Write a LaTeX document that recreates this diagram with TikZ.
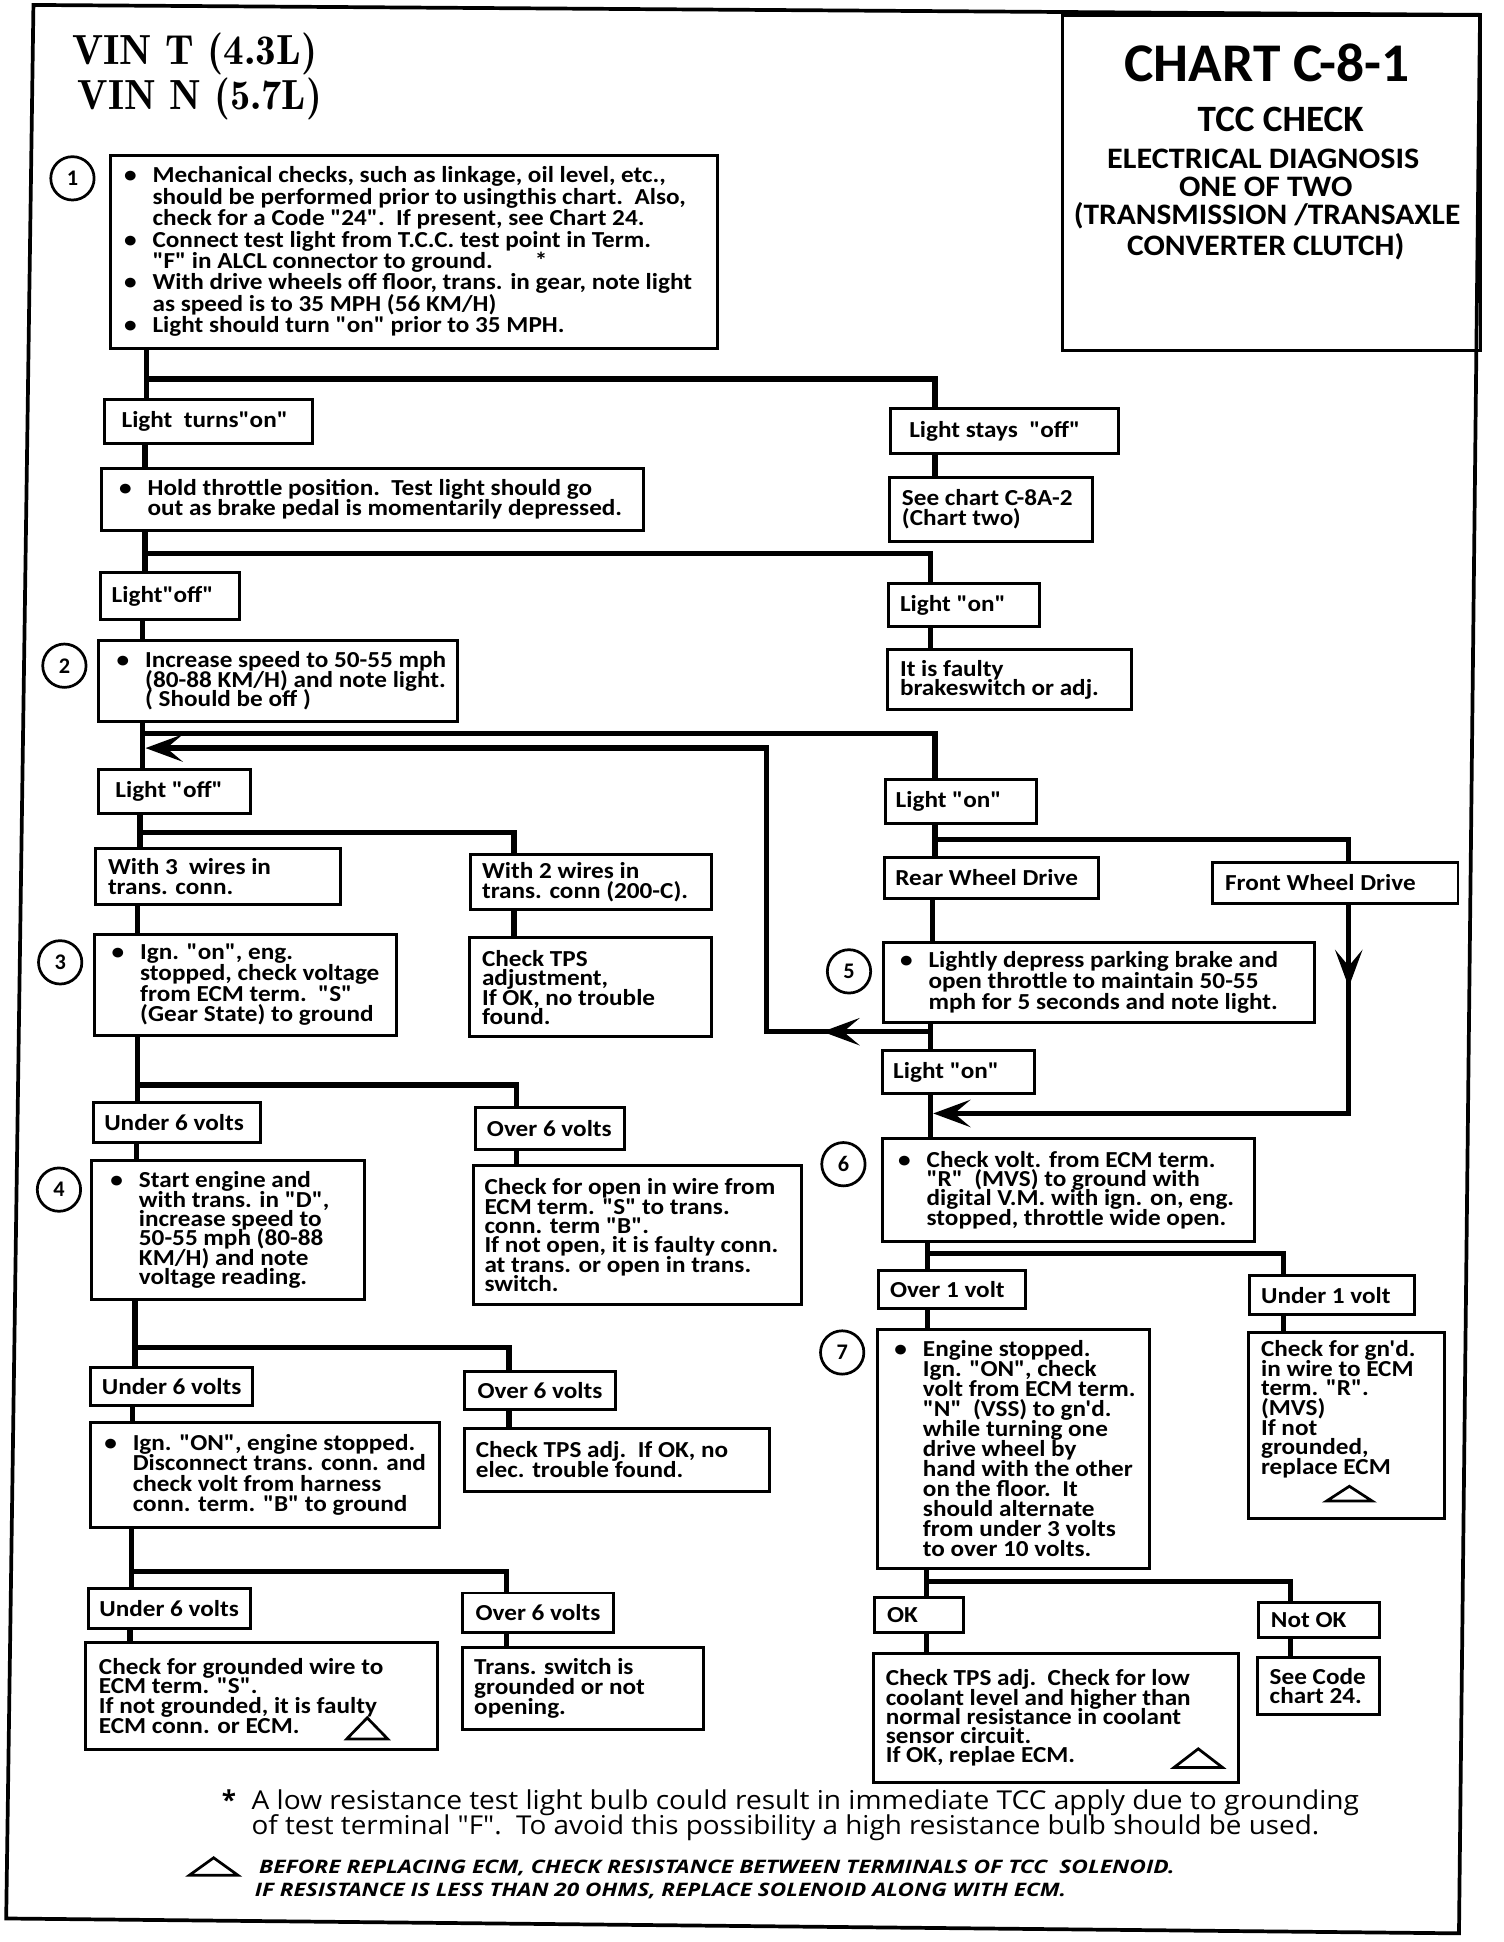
\documentclass[tikz,border=0pt]{standalone}
\usepackage{fontspec}
\usepackage{graphicx}
\usetikzlibrary{arrows.meta,calc}
\newfontfamily\carl{Carlito}[FakeStretch=1.1]
\newfontfamily\carltitle{Carlito}
\newfontfamily\opens{Open Sans}
\newfontfamily\vinf{lmromandemi10-regular.otf}
\newcommand\bxf{\carl\bfseries\fontsize{18.5}{15.8}\selectfont\lineskiplimit=-100pt\relax}
\newcommand\bsk[1]{\fontsize{18.5}{#1}\selectfont}
\newcommand\bul{\makebox[23pt][l]{\textbullet}}
\newcommand\ind{\hspace*{23pt}}
\newcommand\mybox[5]{\pgfmathsetmacro\bxW{#4-#2}\pgfmathsetmacro\bxH{#5-#3}\node[box,minimum width=\bxW pt,minimum height=\bxH pt,anchor=north west] (#1) at (#2,#3) {};}
\newcommand\boxtext[4][]{\node[txt,anchor=west,#1] (#2t) at ([xshift=#3pt]#2.west) {#4};}
\tikzset{
  box/.style={draw,line width=2.4pt,inner sep=0pt},
  txt/.style={inner sep=0pt,align=left,font=\bxf},
  conn/.style={line width=4.2pt},
  arr/.style={-{Stealth[length=30pt,width=22pt,inset=13pt]}},
  circ/.style={draw,circle,line width=2.2pt,minimum size=35pt,inner sep=0pt,font=\carltitle\bfseries\fontsize{18}{18}\selectfont},
  tri/.style={line width=2.2pt,line join=miter},
  ttl/.style={anchor=base,inner sep=0pt},
}
\begin{document}
\begin{tikzpicture}[x=1pt,y=-1pt]
\useasboundingbox (0,0) rectangle (1214,1568);
\fill[white] (0,0) rectangle (1214,1568);
% outer frame
\draw[line width=3pt,line join=miter] (27,4) -- (1195,12) -- (1178,1561) -- (5,1549) -- cycle;
% title box
\mybox{tb}{857}{11}{1194}{282}
\node[ttl,font=\carltitle\bfseries\fontsize{44}{44}\selectfont] (t1) at (1023,66) {\resizebox{230pt}{\height}{CHART C-8-1}};
\node[ttl,font=\carltitle\bfseries\fontsize{30}{30}\selectfont] (t2) at (1034,106) {\resizebox{134pt}{\height}{TCC CHECK}};
\node[ttl,font=\carltitle\bfseries\fontsize{24}{24}\selectfont] (t3) at (1020,136) {\resizebox{252pt}{\height}{ELECTRICAL DIAGNOSIS}};
\node[ttl,font=\carltitle\bfseries\fontsize{24}{24}\selectfont] (t4) at (1022,159) {\resizebox{140pt}{\height}{ONE OF TWO}};
\node[ttl,font=\carltitle\bfseries\fontsize{24}{24}\selectfont] (t5) at (1023,181.6) {\resizebox{312pt}{\height}{(TRANSMISSION /TRANSAXLE}};
\node[ttl,font=\carltitle\bfseries\fontsize{24}{24}\selectfont] (t6) at (1022,206) {\resizebox{224pt}{\height}{CONVERTER CLUTCH)}};
% VIN
\node[anchor=base west,inner sep=0pt,font=\vinf\fontsize{34}{34}\selectfont] (v1) at (58,51.7) {\resizebox{198pt}{\height}{VIN T (4.3L)}};
\node[anchor=base west,inner sep=0pt,font=\vinf\fontsize{34}{34}\selectfont] (v2) at (62.6,88.8) {\resizebox{197pt}{\height}{VIN N (5.7L)}};

% boxes
\mybox{b1}{88}{124}{578}{280}
\mybox{lton}{83}{321}{251}{357}
\mybox{hold}{81}{377}{518}{427}
\mybox{lso}{718}{329}{902}{365}
\mybox{sc}{717}{384}{881}{436}
\mybox{loffa}{80}{461}{192}{499}
\mybox{lona}{716}{470}{838}{505}
\mybox{b2}{78}{516}{368}{581}
\mybox{faulty}{715}{523}{912}{572}
\mybox{loffb}{78}{620}{201}{656}
\mybox{lonb}{714}{628}{836}{664}
\mybox{wthree}{76}{684}{274}{729}
\mybox{wtwo}{379}{689}{573}{733}
\mybox{rwd}{713}{691}{886}{724}
\mybox{fwd}{978}{695}{1176}{728}
\mybox{b3}{75}{753}{319}{835}
\mybox{tps}{378}{756}{573}{836}
\mybox{b5}{712}{760}{1060}{824}
\mybox{lonc}{711}{847}{834}{882}
\mybox{ua}{74}{889}{209}{921}
\mybox{oa}{383}{893}{503}{927}
\mybox{b6}{711}{918}{1012}{1001}
\mybox{b4}{73}{936}{293}{1048}
\mybox{cfo}{381}{940}{646}{1052}
\mybox{oone}{708}{1025}{827}{1055}
\mybox{uone}{1008}{1029}{1141}{1060}
\mybox{b7}{707}{1072}{927}{1265}
\mybox{gnd}{1007}{1075}{1165}{1225}
\mybox{ub}{72}{1103}{203}{1134}
\mybox{ob}{374}{1106}{496}{1137}
\mybox{ign}{72}{1147}{354}{1232}
\mybox{tpsadj}{374}{1152}{620}{1203}
\mybox{uc}{70}{1281}{201}{1314}
\mybox{oc}{372}{1285}{494}{1317}
\mybox{cgw}{68}{1325}{352}{1411}
\mybox{ts}{372}{1329}{567}{1395}
\mybox{ok}{705}{1289}{777}{1317}
\mybox{nok}{1015}{1293}{1113}{1321}
\mybox{tpsl}{704}{1334}{999}{1438}
\mybox{scc}{1014}{1337}{1113}{1383}

% texts
\boxtext[font=\bxf\bsk{17.3}]{b1}{12}{\bul Mechanical checks, such as linkage, oil level, etc.,\\
\ind should be performed prior to usingthis chart.\ \ Also,\\
\ind check for a Code "24".\ \ If present, see Chart 24.\\
\bul Connect test light from T.C.C. test point in Term.\\
\ind "F" in ALCL connector to ground.\hspace{34pt}*\\
\bul With drive wheels off floor, trans. in gear, note light\\
\ind as speed is to 35 MPH (56 KM/H)\\
\bul Light should turn "on" prior to 35 MPH.}
\boxtext{lton}{15}{Light\ \ turns"on"}
\boxtext[font=\bxf\bsk{15.7}]{hold}{15}{\bul Hold throttle position.\ \ Test light should go\\
\ind out as brake pedal is momentarily depressed.}
\boxtext{lso}{16}{Light stays\ \ "off"}
\boxtext[font=\bxf\bsk{16}]{sc}{11}{See chart C-8A-2\\(Chart two)}
\boxtext{loffa}{10}{Light"off"}
\boxtext{lona}{10.5}{Light "on"}
\boxtext[font=\bxf\bsk{15.6}]{b2}{16}{\bul Increase speed to 50-55 mph\\
\ind (80-88 KM/H) and note light.\\
\ind ( Should be off )}
\boxtext[font=\bxf\bsk{15.6}]{faulty}{11.5}{It is faulty\\brakeswitch or adj.}
\boxtext{loffb}{15}{Light "off"}
\boxtext{lonb}{9}{Light "on"}
\boxtext[font=\bxf\bsk{15.8}]{wthree}{11}{With 3\ \ wires in\\trans. conn.}
\boxtext[font=\bxf\bsk{16}]{wtwo}{10}{With 2 wires in\\trans. conn (200-C).}
\boxtext{rwd}{9.7}{Rear Wheel Drive}
\boxtext{fwd}{11}{Front Wheel Drive}
\boxtext[font=\bxf\bsk{16.7}]{b3}{15}{\bul Ign. "on", eng.\\
\ind stopped, check voltage\\
\ind from ECM term.\ \ "S"\\
\ind (Gear State) to ground}
\boxtext[font=\bxf\bsk{15.7}]{tps}{11}{Check TPS\\adjustment,\\If OK, no trouble\\found.}
\boxtext[font=\bxf\bsk{17}]{b5}{14.5}{\bul Lightly depress parking brake and\\
\ind open throttle to maintain 50-55\\
\ind mph for 5 seconds and note light.}
\boxtext{lonc}{10}{Light "on"}
\boxtext{ua}{10}{Under 6 volts}
\boxtext{oa}{10}{Over 6 volts}
\boxtext[font=\bxf\bsk{15.6}]{b6}{14}{\bul Check volt. from ECM term.\\
\ind "R"\ \ (MVS) to ground with\\
\ind digital V.M. with ign. on, eng.\\
\ind stopped, throttle wide open.}
\boxtext[font=\bxf\bsk{15.6}]{b4}{16}{\bul Start engine and\\
\ind with trans. in "D",\\
\ind increase speed to\\
\ind 50-55 mph (80-88\\
\ind KM/H) and note\\
\ind voltage reading.}
\boxtext[font=\bxf\bsk{15.6}]{cfo}{10}{Check for open in wire from\\ECM term. "S" to trans.\\conn. term "B".\\If not open, it is faulty conn.\\at trans. or open in trans.\\switch.}
\boxtext{oone}{10.4}{Over 1 volt}
\boxtext{uone}{10}{Under 1 volt}
\boxtext[font=\bxf\bsk{16.1}]{b7}{15}{\bul Engine stopped.\\
\ind Ign. "ON", check\\
\ind volt from ECM term.\\
\ind "N"\ \ (VSS) to gn'd.\\
\ind while turning one\\
\ind drive wheel by\\
\ind hand with the other\\
\ind on the floor.\ \ It\\
\ind should alternate\\
\ind from under 3 volts\\
\ind to over 10 volts.}
\node[txt,anchor=north west,font=\bxf\bsk{15.9}] (gndt) at ([xshift=11pt,yshift=-7pt]gnd.north west) {Check for gn'd.\\in wire to ECM\\term. "R".\\(MVS)\\If not\\grounded,\\replace ECM};
\boxtext{ub}{10}{Under 6 volts}
\boxtext{ob}{11.5}{Over 6 volts}
\boxtext[font=\bxf\bsk{16.5}]{ign}{12}{\bul Ign. "ON", engine stopped.\\
\ind Disconnect trans. conn. and\\
\ind check volt from harness\\
\ind conn. term. "B" to ground}
\boxtext[font=\bxf\bsk{16.2}]{tpsadj}{10}{Check TPS adj.\ \ If OK, no\\elec. trouble found.}
\boxtext{uc}{10}{Under 6 volts}
\boxtext{oc}{11.8}{Over 6 volts}
\boxtext[font=\bxf\bsk{15.8}]{cgw}{11.7}{Check for grounded wire to\\ECM term. "S".\\If not grounded, it is faulty\\ECM conn. or ECM.}
\boxtext[font=\bxf\bsk{16}]{ts}{10.7}{Trans. switch is\\grounded or not\\opening.}
\boxtext{ok}{11}{OK}
\boxtext{nok}{11}{Not OK}
\boxtext[font=\bxf\bsk{15.6}]{tpsl}{11}{Check TPS adj.\ \ Check for low\\coolant level and higher than\\normal resistance in coolant\\sensor circuit.\\If OK, replae ECM.}
\boxtext[font=\bxf\bsk{15.6}]{scc}{11}{See Code\\chart 24.}

% triangles
\draw[tri] (280,1404) -- (313,1404) -- (296.5,1387) -- cycle;
\draw[tri] (1071,1212) -- (1108,1212) -- (1089.5,1200) -- cycle;
\draw[tri] (948,1427) -- (987,1427) -- (967.5,1412) -- cycle;
\draw[tri] (153,1514) -- (192,1514) -- (172.5,1500) -- cycle;

% step circles
\node[circ] (n1) at (58.5,144) {1};
\node[circ] (n2) at (52,537.5) {2};
\node[circ] (n3) at (48.6,777) {3};
\node[circ] (n4) at (47.6,960.5) {4};
\node[circ] (n5) at (685.5,784.3) {5};
\node[circ] (n6) at (681,940) {6};
\node[circ] (n7) at (680,1092) {7};

% junction coordinates
\coordinate (j1) at (118,306);
\coordinate (j2) at (117,447);
\coordinate (j3) at (115,592);
\coordinate (j4) at (113,672);
\coordinate (j5) at (111,876);
\coordinate (j6) at (109,1088);
\coordinate (j7) at (106,1269);
\coordinate (r1) at (755,678);
\coordinate (r2) at (749,1012);
\coordinate (r3) at (748,1277);
\coordinate (lpA) at (751,833);
\coordinate (lpM) at (664,833);
\coordinate (lpB) at (619,604);
\coordinate (lpC) at (117.5,604);
\coordinate (fwM) at (1089,797);
\coordinate (fwE) at (753.5,899);

% connectors, left column
\draw[conn] ([xshift=30pt]b1.south west) -- ([xshift=35pt]lton.north west);
\draw[conn] (j1) -| ([xshift=37pt]lso.north west);
\draw[conn] ([xshift=34pt]lton.south west) -- ([xshift=36pt]hold.north west);
\draw[conn] ([xshift=37pt]lso.south west) -- ([xshift=38pt]sc.north west);
\draw[conn] ([xshift=36pt]hold.south west) -- ([xshift=37pt]loffa.north west);
\draw[conn] (j2) -| ([xshift=35pt]lona.north west);
\draw[conn] ([xshift=35pt]lona.south west) -- ([xshift=36pt]faulty.north west);
\draw[conn] ([xshift=35pt]loffa.south west) -- ([xshift=37pt]b2.north west);
\draw[conn] ([xshift=37pt]b2.south west) -- ([xshift=37pt]loffb.north west);
\draw[conn] (j3) -| ([xshift=41pt]lonb.north west);
\draw[conn] ([xshift=35pt]loffb.south west) -- ([xshift=37pt]wthree.north west);
\draw[conn] (j4) -| ([xshift=36pt]wtwo.north west);
\draw[conn] ([xshift=35pt]wthree.south west) -- ([xshift=36pt]b3.north west);
\draw[conn] ([xshift=36pt]wtwo.south west) -- ([xshift=37pt]tps.north west);
\draw[conn] ([xshift=36pt]b3.south west) -- ([xshift=37pt]ua.north west);
\draw[conn] (j5) -| ([xshift=34pt]oa.north west);
\draw[conn] ([xshift=36pt]ua.south west) -- ([xshift=37pt]b4.north west);
\draw[conn] ([xshift=34pt]oa.south west) -- ([xshift=36pt]cfo.north west);
\draw[conn] ([xshift=36pt]b4.south west) -- ([xshift=37pt]ub.north west);
\draw[conn] (j6) -| ([xshift=37pt]ob.north west);
\draw[conn] ([xshift=35pt]ub.south west) -- ([xshift=35pt]ign.north west);
\draw[conn] ([xshift=37pt]ob.south west) -- ([xshift=37pt]tpsadj.north west);
\draw[conn] ([xshift=34pt]ign.south west) -- ([xshift=36pt]uc.north west);
\draw[conn] (j7) -| ([xshift=37pt]oc.north west);
\draw[conn] ([xshift=35pt]uc.south west) -- ([xshift=37pt]cgw.north west);
\draw[conn] ([xshift=37pt]oc.south west) -- ([xshift=37pt]ts.north west);
% right column
\draw[conn] ([xshift=41pt]lonb.south west) -- ([xshift=42pt]rwd.north west);
\draw[conn] (r1) -| ([xshift=111pt]fwd.north west);
\draw[conn] ([xshift=40pt]rwd.south west) -- ([xshift=41pt]b5.north west);
\draw[conn] ([xshift=39pt]b5.south west) -- ([xshift=40pt]lonc.north west);
\draw[conn,arr] ([xshift=111pt]fwd.south west) |- (fwE);
\draw[conn,arr] ([xshift=111pt]fwd.south west) -- (fwM);
\draw[conn,arr] (lpA) -| (lpB) -- (lpC);
\draw[conn,arr] (lpA) -- (lpM);
\draw[conn] ([xshift=40pt]lonc.south west) -- ([xshift=40pt]b6.north west);
\draw[conn] ([xshift=38pt]b6.south west) -- ([xshift=41pt]oone.north west);
\draw[conn] (r2) -| ([xshift=28pt]uone.north west);
\draw[conn] ([xshift=41pt]oone.south west) -- ([xshift=42pt]b7.north west);
\draw[conn] ([xshift=28pt]uone.south west) -- ([xshift=29pt]gnd.north west);
\draw[conn] ([xshift=41pt]b7.south west) -- ([xshift=43pt]ok.north west);
\draw[conn] (r3) -| ([xshift=27pt]nok.north west);
\draw[conn] ([xshift=43pt]ok.south west) -- ([xshift=44pt]tpsl.north west);
\draw[conn] ([xshift=27pt]nok.south west) -- ([xshift=28pt]scc.north west);

% footnotes
\node[anchor=base west,inner sep=0pt,font=\opens\bfseries\fontsize{21}{21}\selectfont] (fstar) at (179,1461) {*};
\node[anchor=base west,inner sep=0pt,font=\opens\fontsize{21}{21}\selectfont] (fa) at (203,1461) {\resizebox{894pt}{\height}{A low resistance test light bulb could result in immediate TCC apply due to grounding}};
\node[anchor=base west,inner sep=0pt,font=\opens\fontsize{21}{21}\selectfont] (fb) at (203,1481) {\resizebox{862pt}{\height}{of test terminal "F".\ \ To avoid this possibility a high resistance bulb should be used.}};
\node[anchor=base west,inner sep=0pt,font=\opens\bfseries\itshape\fontsize{15}{15}\selectfont] (na) at (209,1513) {\resizebox{739pt}{\height}{BEFORE REPLACING ECM, CHECK RESISTANCE BETWEEN TERMINALS OF TCC\ \ SOLENOID.}};
\node[anchor=base west,inner sep=0pt,font=\opens\bfseries\itshape\fontsize{15}{15}\selectfont] (nb) at (205.5,1531) {\resizebox{655pt}{\height}{IF RESISTANCE IS LESS THAN 20 OHMS, REPLACE SOLENOID ALONG WITH ECM.}};
\end{tikzpicture}
\end{document}
